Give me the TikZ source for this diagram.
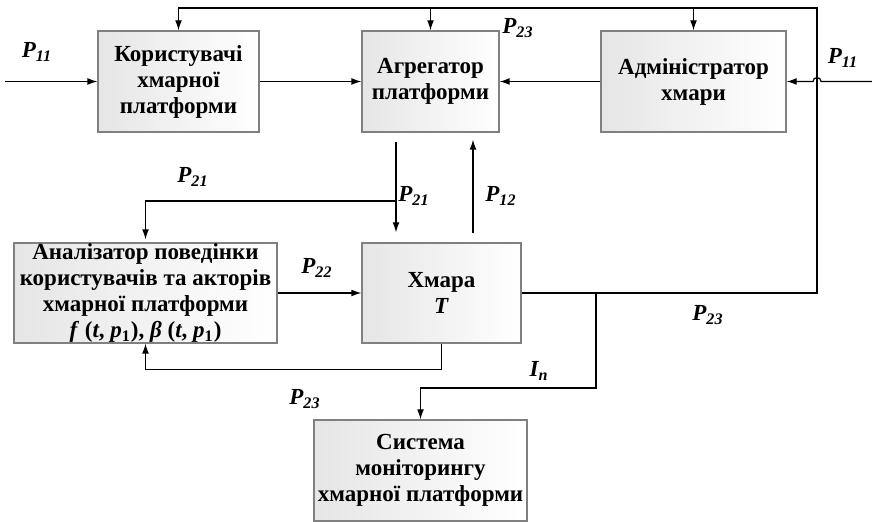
\documentclass[tikz,border=0pt]{standalone}
\usepackage{fontspec}
\setmainfont{Liberation Serif}
\usetikzlibrary{arrows.meta}

\begin{document}
\begin{tikzpicture}[
  x=0.5pt,
  y=-0.5pt,
  blok/.style={draw=black!50, line width=0.6pt, left color=black!10, right color=white, align=center, inner sep=0pt, font=\fontsize{11.5}{13}\selectfont\bfseries},
  strilka/.style={line width=0.6pt, -{Latex[length=5pt, width=3.4pt]}},
  mitka/.style={inner sep=0pt, font=\fontsize{11.5}{13}\selectfont\bfseries\itshape}
  ]
    \useasboundingbox (0,0) rectangle (872,522);

    % Blocks
    \node[blok, minimum width=80.5pt, minimum height=50.5pt] (kor) at (178.5,81.5) {Користувачі\\хмарної\\платформи};
    \node[blok, minimum width=68.5pt, minimum height=50.5pt] (agr) at (430.5,81.5) {Агрегатор\\платформи};
    \node[blok, minimum width=92.5pt, minimum height=50.5pt] (adm) at (693.5,81.5) {Адміністратор\\хмари};
    \node[blok, minimum width=131.5pt, minimum height=50pt] (anl) at (145.5,293) {Аналізатор поведінки\\користувачів та акторів\\хмарної платформи\\\textit{f} (\textit{t}, \textit{p}\textsubscript{1}), \textit{β} (\textit{t}, \textit{p}\textsubscript{1})};
    \node[blok, minimum width=79.5pt, minimum height=50pt] (hmr) at (441.5,293) {Хмара\\\textit{T}};
    \node[blok, minimum width=106.5pt, minimum height=50.5pt] (sys) at (420.5,470.5) {Система\\моніторингу\\хмарної платформи};

    \coordinate (inL) at (5,81.5);
    \coordinate (inR) at (872,81.5);
    \coordinate (kut) at (817,8);
    \coordinate (vyh) at (817,293);
    \coordinate (vnyz) at (396,142);
    \coordinate (vgoru) at (473,233);
    \coordinate (vidg) at (396,201);
    \coordinate (mon) at (596,293);

%top row
\draw[strilka] (inL) -- (kor.west);
\draw[strilka] (kor.east) -- (agr.west);
\draw[strilka] (adm.west) -- (agr.east);
\draw[strilka] (inR) -- ([xshift=2pt]kut |- inR) arc[start angle=0, end angle=180, radius=2pt] -- (adm.east);

%feedback from the cloud
\draw[strilka] (hmr.east) -- (vyh) -- (kut) -| (kor.north);
\draw[strilka] (agr.north |- kut) -- (agr.north);
\draw[strilka] (adm.north |- kut) -- (adm.north);

%middle
\draw[strilka, shorten >=5pt] (vnyz) -- (vnyz |- hmr.north);
\draw[strilka, shorten >=3.5pt] (vgoru) -- (vgoru |- agr.south);
\draw[strilka, shorten >=1.5pt] (vidg) -| (anl.north);
\draw[strilka] (anl.east) -- (hmr.west);
\draw[strilka] (hmr.south) -- ++(0,26) -| (anl.south);
\draw[strilka] (mon) -- ++(0,95) -| (sys.north);

%labels
\node[mitka] (p11a) at (37,52) {P\textsubscript{11}};
\node[mitka] (p11b) at (843,58) {P\textsubscript{11}};
\node[mitka] (p23a) at (518,28) {P\textsubscript{23}};
\node[mitka] (p21a) at (193,177) {P\textsubscript{21}};
\node[mitka] (p21b) at (414,196) {P\textsubscript{21}};
\node[mitka] (p12) at (501,196) {P\textsubscript{12}};
\node[mitka] (p22) at (317,268) {P\textsubscript{22}};
\node[mitka] (p23b) at (708,315) {P\textsubscript{23}};
\node[mitka] (in) at (539,371) {I\textsubscript{n}};
\node[mitka] (p23c) at (305,399) {P\textsubscript{23}};

\end{tikzpicture}
\end{document}
